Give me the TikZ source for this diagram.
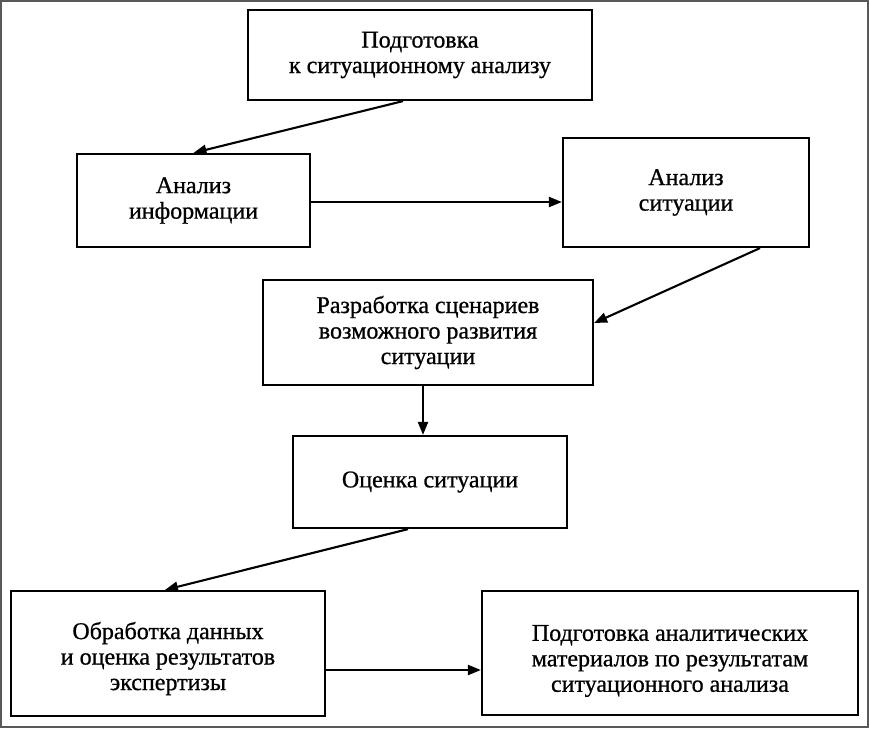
\documentclass[tikz,border=0pt]{standalone}
\usepackage{fontspec}
\setmainfont{Liberation Serif}[FakeBold=0.8]
\usetikzlibrary{arrows.meta,calc}
\begin{document}
\begin{tikzpicture}[x=1pt,y=-1pt,
  txt/.style={align=center,inner sep=0pt,font=\fontsize{24}{25.5}\selectfont},
  box/.style={draw=black,line width=2.2pt,rectangle,txt},
  conn/.style={line width=2.1pt,-{Triangle[length=13pt,width=10pt]}}]
\useasboundingbox (0,0) rectangle (869,728);
\draw[line width=2pt,draw=black!65] (1,1) rectangle (868,727);
\node[box,minimum width=344pt,minimum height=90pt] (b1) at (420,55) {Подготовка\\к ситуационному анализу};
\node[box,minimum width=233pt,minimum height=93pt] (b2) at (193.5,200.5) {Анализ\\информации};
\node[box,minimum width=246pt,minimum height=109pt] (b3) at (686,192.5) {Анализ\\ситуации};
\node[box,minimum width=330pt,minimum height=105pt] (b4) at (428,332.5) {Разработка сценариев\\возможного развития\\ситуации};
\node[box,minimum width=274pt,minimum height=92pt] (b5) at (430,482) {Оценка ситуации};
\node[box,minimum width=314pt,minimum height=125pt,
  label={[txt,yshift=-5pt]center:Обработка данных\\и оценка результатов\\экспертизы}] (b6) at (168,653.5) {};
\node[box,minimum width=376pt,minimum height=124pt,
  label={[txt,yshift=-8pt]center:Подготовка аналитических\\материалов по результатам\\ситуационного анализа}] (b7) at (670,653) {};
\draw[conn] ([xshift=-17pt]b1.south) -- (b2.north);
\draw[conn] ([yshift=-1.5pt]b2.east) -- ([yshift=-1.5pt]b2.east -| b3.west);
\draw[conn] ([xshift=74pt]b3.south) -- ([yshift=9.5pt]b4.east);
\draw[conn] ([xshift=-5pt]b4.south) -- ([xshift=-5pt]b4.south |- b5.north);
\draw[conn] ([xshift=-22pt]b5.south) -- ([xshift=-3pt]b6.north);
\draw[conn] ([yshift=-16.5pt]b6.east) -- ([yshift=-16.5pt]b6.east -| b7.west);
\end{tikzpicture}
\end{document}
